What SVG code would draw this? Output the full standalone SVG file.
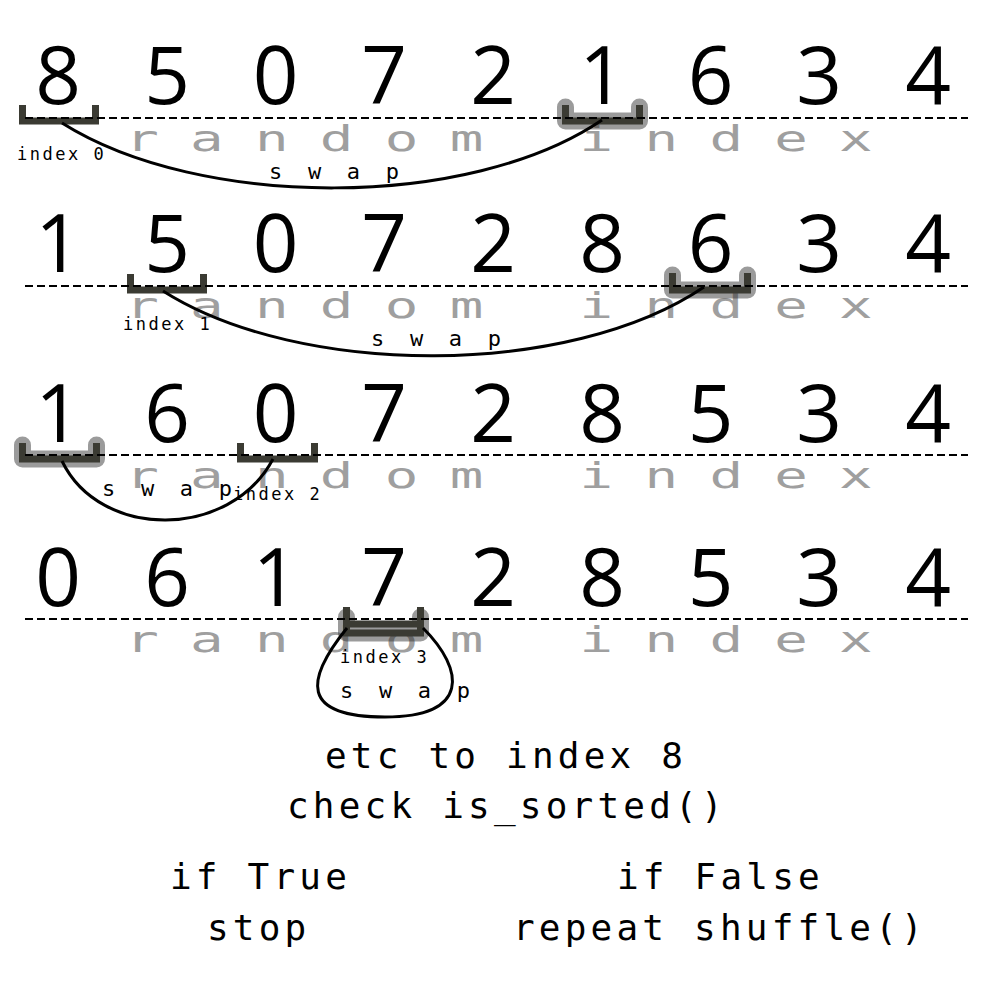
<svg xmlns="http://www.w3.org/2000/svg" width="1000" height="1000" viewBox="0 0 1000 1000">
<style>
.dig{font-family:"Open Sans","Noto Sans",sans-serif;font-size:80px;fill:#000;text-anchor:middle}
.rnd{font-family:"DejaVu Sans Mono",monospace;font-size:36px;fill:#9f9f9f;text-anchor:middle}
.lbl{font-family:"DejaVu Sans Mono",monospace;font-size:17px;fill:#000;letter-spacing:2.5px}
.swp{font-family:"DejaVu Sans Mono",monospace;font-size:22px;fill:#000;letter-spacing:6.2px}
.big{font-family:"DejaVu Sans Mono",monospace;font-size:36px;fill:#000;letter-spacing:4.2px}
.dash{stroke:#000;stroke-width:2;stroke-dasharray:8 4;fill:none}
.br{fill:none;stroke:#3b3b33;stroke-width:7;stroke-linejoin:miter;stroke-linecap:butt}
.halo{fill:none;stroke:#2a2a2a;stroke-opacity:0.47;stroke-width:17;stroke-linejoin:round;stroke-linecap:round}
.curve{fill:none;stroke:#000;stroke-width:3}
</style>
<rect width="1000" height="1000" fill="#fff"/>

<g id="random-text">
<text class="rnd" transform="scale(1.55,1)" x="91.6 133.5 175.4 217.2 259.1 301.0 384.7 426.6 468.5 510.3 552.2" y="151">randomindex</text>
<text class="rnd" transform="scale(1.55,1)" x="91.6 133.5 175.4 217.2 259.1 301.0 384.7 426.6 468.5 510.3 552.2" y="318">randomindex</text>
<text class="rnd" transform="scale(1.55,1)" x="91.6 133.5 175.4 217.2 259.1 301.0 384.7 426.6 468.5 510.3 552.2" y="488">randomindex</text>
<text class="rnd" transform="scale(1.55,1)" x="91.6 133.5 175.4 217.2 259.1 301.0 384.7 426.6 468.5 510.3 552.2" y="652">randomindex</text>
</g>

<g id="row1">
<g id="r1-index0"><path class="br" d="M22.5,105 V121 H95.5 V105"/></g>
<g id="r1-random"><path class="halo" d="M565.5,107 V121 H639.5 V107"/><path class="br" d="M565.5,105 V121 H639.5 V105"/></g>
<line class="dash" x1="25" y1="118" x2="968" y2="118"/>
<text class="dig" x="58 167 275.5 384 493 602 710.5 819 928" y="104">850721634</text>
<text class="lbl" x="17" y="160">index 0</text>
</g>

<g id="row2">
<g id="r2-index1"><path class="br" d="M130.5,274 V290 H203.5 V274"/></g>
<g id="r2-random"><path class="halo" d="M672.5,275 V290 H747.5 V275"/><path class="br" d="M672.5,273 V290 H747.5 V273"/></g>
<line class="dash" x1="25" y1="286" x2="968" y2="286"/>
<text class="dig" x="58 167 275.5 384 493 602 710.5 819 928" y="272">150728634</text>
<text class="lbl" x="123" y="330">index 1</text>
</g>

<g id="row3">
<g id="r3-random"><path class="halo" d="M22.5,445 V459 H96.5 V445"/><path class="br" d="M22.5,443 V459 H96.5 V443"/></g>
<g id="r3-index2"><path class="br" d="M240.5,443 V459 H314.5 V443"/></g>
<line class="dash" x1="25" y1="455" x2="968" y2="455"/>
<text class="dig" x="58 167 275.5 384 493 602 710.5 819 928" y="442">160728534</text>
<text class="lbl" x="233" y="500">index 2</text>
</g>

<g id="row4">
<g id="r4-random"><path class="halo" d="M346.5,617 V633 H420.5 V617"/><path class="br" d="M346.5,612 V633 H420.5 V612"/></g>
<g id="r4-index3"><path class="br" d="M346.5,607 V624 H420.5 V607"/></g>
<line class="dash" x1="25" y1="619" x2="968" y2="619"/>
<text class="dig" x="58 167 275.5 384 493 602 710.5 819 928" y="606">061728534</text>
<text class="lbl" x="340" y="663">index 3</text>
</g>

<g id="connectors">
<path class="curve" d="M62,123 C200,210 470,210 602,120"/>
<path class="curve" d="M163,291 C300,378 570,378 704,287"/>
<path class="curve" d="M62,461 C100,540 230,540 273,459"/>
<path class="curve" d="M347,628 C305,680 300,717 385,717 C470,717 465,670 423,628"/>
</g>

<g id="swap-labels">
<text class="swp" x="269" y="179">s w a p</text>
<text class="swp" x="371" y="346">s w a p</text>
<text class="swp" x="102" y="496">s w a p</text>
<text class="swp" x="340" y="698">s w a p</text>
</g>

<g id="footer">
<text class="big" x="325" y="768">etc to index 8</text>
<text class="big" x="287" y="818">check is_sorted()</text>
<text class="big" x="170" y="889">if True</text>
<text class="big" x="207" y="940">stop</text>
<text class="big" x="617" y="889">if False</text>
<text class="big" x="513" y="940">repeat shuffle()</text>
</g>
</svg>
